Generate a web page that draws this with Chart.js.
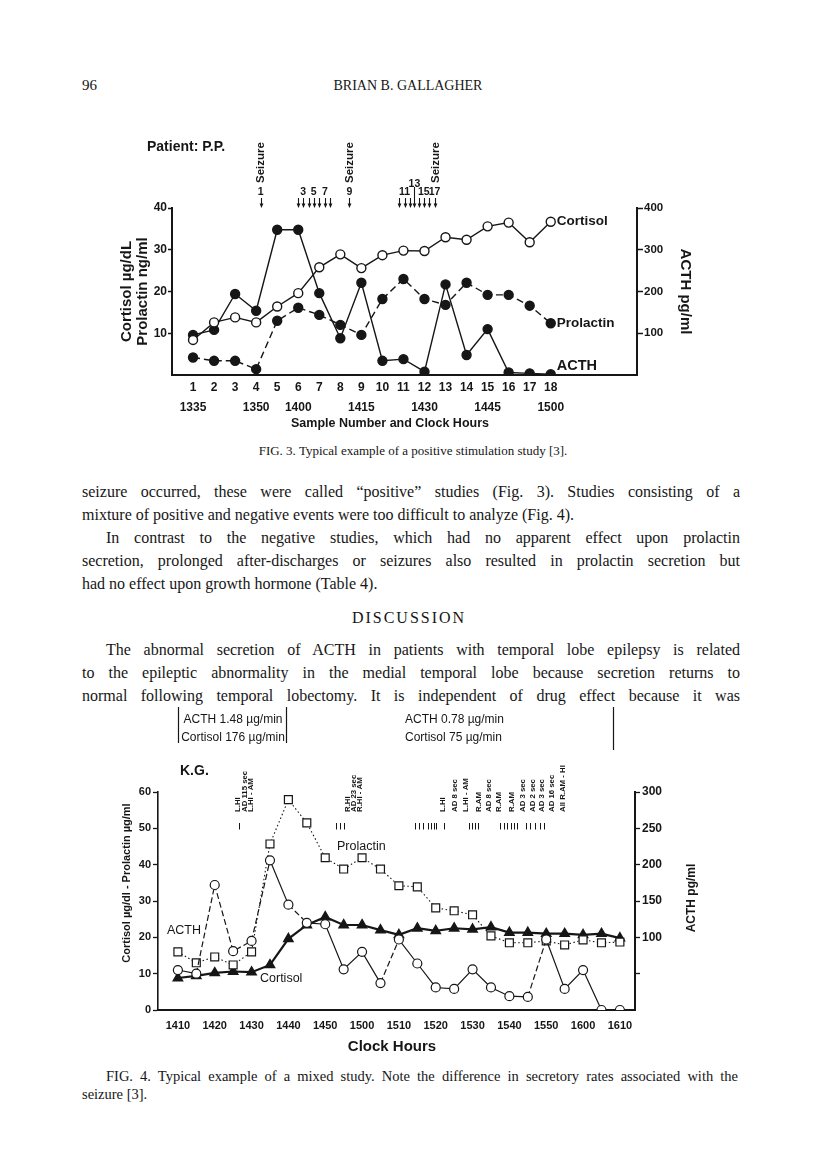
<!DOCTYPE html>
<html>
<head>
<meta charset="utf-8">
<script src="https://cdn.jsdelivr.net/npm/chart.js@4.4.1/dist/chart.umd.min.js"></script>
<style>
  html, body { margin: 0; padding: 0; background: #fff; }
  body { width: 816px; height: 1168px; position: relative; overflow: hidden;
         font-family: "Liberation Serif", "Times New Roman", serif; color: #161616; }
  .t { position: absolute; white-space: nowrap; }
  .ln { position: absolute; left: 82px; width: 658px; font-size: 16px; line-height: 23px; }
  .j { text-align: justify; text-align-last: justify; }
  canvas { position: absolute; }
</style>
</head>
<body>
<div class="t" style="left:82px;top:76px;font-size:15px;line-height:18px;">96</div>
<div class="t" style="left:0;width:816px;text-align:center;top:77px;font-size:14px;line-height:18px;">BRIAN B. GALLAGHER</div>

<canvas id="fig3" width="620" height="320" style="left:100px;top:120px;width:620px;height:320px;"></canvas>
<div class="t" style="left:0;width:826px;text-align:center;top:442px;font-size:13px;line-height:18px;">FIG. 3. Typical example of a positive stimulation study [3].</div>

<div class="ln j" style="top:480px;">seizure occurred, these were called “positive” studies (Fig. 3). Studies consisting of a</div>
<div class="ln" style="top:503px;">mixture of positive and negative events were too difficult to analyze (Fig. 4).</div>
<div class="ln j" style="top:526px;padding-left:24px;width:634px;">In contrast to the negative studies, which had no apparent effect upon prolactin</div>
<div class="ln j" style="top:549px;">secretion, prolonged after-discharges or seizures also resulted in prolactin secretion but</div>
<div class="ln" style="top:572px;">had no effect upon growth hormone (Table 4).</div>
<div class="t" style="left:0;width:818px;text-align:center;top:606px;font-size:16px;line-height:23px;letter-spacing:2px;">DISCUSSION</div>
<div class="ln j" style="top:638px;padding-left:24px;width:634px;">The abnormal secretion of ACTH in patients with temporal lobe epilepsy is related</div>
<div class="ln j" style="top:661px;">to the epileptic abnormality in the medial temporal lobe because secretion returns to</div>
<div class="ln j" style="top:684px;">normal following temporal lobectomy. It is independent of drug effect because it was</div>

<canvas id="fig4" width="620" height="365" style="left:100px;top:700px;width:620px;height:365px;"></canvas>
<div class="t j" style="left:106px;width:632px;top:1067px;font-size:14.5px;line-height:18px;white-space:normal;">FIG. 4. Typical example of a mixed study. Note the difference in secretory rates associated with the</div>
<div class="t" style="left:82px;top:1085px;font-size:14.5px;line-height:18px;">seizure [3].</div>

<script>
// ---------- Fig. 3 : patient P.P. ----------
const samples = [1, 2, 3, 4, 5, 6, 7, 8, 9, 10, 11, 12, 13, 14, 15, 16, 17, 18];
const clockSamples = [1, 4, 6, 9, 12, 15, 18];
const clockTimes = ['1335', '1350', '1400', '1415', '1430', '1445', '1500'];
const cortisol3 = [8.4, 12.6, 13.8, 12.6, 16.4, 19.6, 25.8, 28.9, 25.6, 28.7, 29.8, 29.7, 33.0, 32.4, 35.6, 36.5, 31.8, 36.7];
const prolactin3 = [4.2, 3.4, 3.4, 1.4, 13.0, 16.1, 14.4, 12.0, 9.6, 18.2, 23.0, 18.2, 16.8, 22.1, 19.2, 19.2, 16.6, 12.4];
const acth3 = [96, 108, 194, 154, 348, 348, 196, 88, 221, 34, 38, 8, 217, 48, 110, 6, 4, 2];
// stimulations 1..17 and seizures, in sample-number units
const stimAt3 = [4.22, 5.97, 6.24, 6.49, 6.73, 7.0, 7.27, 7.52, 8.43, 10.81, 11.05, 11.29, 11.52, 11.76, 11.97, 12.2, 12.48];
const stimNumbers3 = [1, 3, 5, 7, 9, 11, 13, 15, 17];
const seizureAt3 = [4.22, 8.43, 12.56];

// ---------- Fig. 4 : patient K.G. ----------
const times4 = ['1410', '1415', '1420', '1425', '1430', '1435', '1440', '1445', '1450', '1455', '1500', '1505', '1510',
                '1515', '1520', '1525', '1530', '1535', '1540', '1545', '1550', '1555', '1600', '1605', '1610'];
const hourTicks4 = ['1410', '1420', '1430', '1440', '1450', '1500', '1510', '1520', '1530', '1540', '1550', '1600', '1610'];
const cortisol4 = [8.8, 9.4, 10.2, 10.6, 10.4, 12.4, 19.6, 23.4, 25.6, 23.4, 23.4, 22.0, 20.7, 22.5, 21.8, 22.5, 22.2, 22.8, 21.3, 21.3, 21.0, 21.0, 20.7, 21.0, 19.8];
const prolactin4 = [16.0, 13.0, 14.6, 12.4, 16.0, 45.7, 57.9, 51.5, 41.9, 38.8, 41.9, 38.8, 34.2, 33.9, 28.1, 27.3, 26.2, 20.4, 18.5, 18.5, 19.0, 17.9, 19.3, 18.5, 18.7];
const acth4 = [55, 50, 172, 81, 95, 206, 145, 120, 118, 56, 80, 37, 97, 64, 31, 29, 56, 31, 19, 18, 97, 29, 55, 0, 0];
const acthDashed4 = [1, 2, 3, 4, 6, 11, 19];
// stimulus marks and their labels, minutes after 1410
const stimAt4 = [16.6, 42.9, 44.0, 45.2, 64.3, 65.4, 66.5, 68.0, 68.7, 69.4, 70.1, 72.2, 79.1, 79.9, 80.7, 81.5,
                 87.4, 88.4, 89.3, 90.3, 91.2, 92.1, 94.5, 95.7, 97.0, 98.2, 99.4];
const eventLabels4 = ['L.HI', 'AD 115 sec', 'L.HI - AM', 'R.HI', 'AD 23 sec', 'R.HI - AM', 'L.HI', 'AD 8 sec', 'L.HI - AM',
                      'R.AM', 'AD 8 sec', 'R.AM', 'R.AM', 'AD 3 sec', 'AD 2 sec', 'AD 3 sec', 'AD 16 sec', 'All R.AM - HI'];
const eventAt4 = [16.4, 18.2, 20.0, 46.2, 47.8, 49.4, 72.0, 75.4, 78.4, 81.8, 84.4, 87.2, 90.8, 93.8, 96.5, 99.0, 101.7, 104.5];

const sans = '"Liberation Sans", Arial, Helvetica, sans-serif';
const ink = '#161616';
Chart.defaults.font.family = sans;
Chart.defaults.color = ink;

const toMin = t => { const v = +t; return Math.floor(v / 100) * 60 + v % 100 - (14 * 60 + 10); };

// rotated text; stretch > 1 lengthens the text along its own direction
function vText(ctx, text, x, y, angle, align, stretch) {
    ctx.save();
    ctx.translate(x, y);
    ctx.rotate(angle);
    if (stretch) ctx.scale(stretch, 1);
    ctx.textAlign = align || 'center';
    ctx.textBaseline = 'middle';
    ctx.fillText(text, 0, 0);
    ctx.restore();
}

const hideZero = c => (c.tick && c.tick.value === 0) ? 'rgba(0,0,0,0)' : ink;

// annotations for Fig. 3
const notes3 = {
    id: 'notes3',
    afterDraw(chart) {
        const { ctx, chartArea: a, scales: { x, y, y1 } } = chart;
        ctx.save();
        ctx.fillStyle = ink;
        ctx.strokeStyle = ink;
        ctx.textBaseline = 'middle';

        ctx.font = `bold 14px ${sans}`;
        ctx.textAlign = 'left';
        ctx.fillText('Patient: P.P.', 47, 27);

        ctx.font = `bold 11.5px ${sans}`;
        seizureAt3.forEach(s => vText(ctx, 'Seizure', x.getPixelForValue(s), 63, -Math.PI / 2, 'left'));

        // stimulus arrows
        ctx.lineWidth = 1.1;
        stimAt3.forEach((s, i) => {
            const px = Math.round(x.getPixelForValue(s)) + 0.5;
            const top = (i + 1) === 13 ? 67 : 78;
            ctx.beginPath(); ctx.moveTo(px, top); ctx.lineTo(px, 85); ctx.stroke();
            ctx.beginPath(); ctx.moveTo(px - 1.9, 83.5); ctx.lineTo(px + 1.9, 83.5); ctx.lineTo(px, 88); ctx.closePath(); ctx.fill();
        });
        ctx.font = `bold 10.5px ${sans}`;
        ctx.textAlign = 'center';
        stimNumbers3.forEach(n => ctx.fillText(String(n), x.getPixelForValue(stimAt3[n - 1]), n === 13 ? 64 : 72));

        // series names
        const last = samples.length - 1;
        const lx = x.getPixelForValue(samples[last]) + 6;
        ctx.textAlign = 'left';
        ctx.font = `bold 13.5px ${sans}`;
        ctx.fillText('Cortisol', lx, y.getPixelForValue(cortisol3[last]));
        ctx.fillText('Prolactin', lx, y.getPixelForValue(prolactin3[last]));
        ctx.font = `bold 14.5px ${sans}`;
        ctx.fillText('ACTH', lx, y1.getPixelForValue(acth3[last]) - 8);

        // axis titles
        const cy = (a.top + a.bottom) / 2;
        ctx.font = `bold 15px ${sans}`;
        vText(ctx, 'Cortisol µg/dL', 27, cy, -Math.PI / 2);
        vText(ctx, 'Prolactin ng/ml', 43, cy, -Math.PI / 2);
        vText(ctx, 'ACTH pg/ml', 585, cy, Math.PI / 2);
        ctx.font = `bold 12.5px ${sans}`;
        ctx.textAlign = 'center';
        ctx.fillText('Sample Number and Clock Hours', 290, 304);
        ctx.restore();
    }
};

const fig3 = new Chart(document.getElementById('fig3'), {
    type: 'line',
    data: {
        datasets: [
            {
                label: 'Cortisol',
                data: samples.map((s, i) => ({ x: s, y: cortisol3[i] })),
                yAxisID: 'y',
                borderColor: ink, borderWidth: 1.4,
                pointRadius: 4.5, pointBackgroundColor: '#fff', pointBorderColor: ink, pointBorderWidth: 1.4
            },
            {
                label: 'Prolactin',
                data: samples.map((s, i) => ({ x: s, y: prolactin3[i] })),
                yAxisID: 'y',
                borderColor: ink, borderWidth: 1.4, borderDash: [7, 4],
                pointRadius: 4.5, pointBackgroundColor: ink, pointBorderColor: ink
            },
            {
                label: 'ACTH',
                data: samples.map((s, i) => ({ x: s, y: acth3[i] })),
                yAxisID: 'y1',
                borderColor: ink, borderWidth: 1.4,
                pointRadius: 4.5, pointBackgroundColor: ink, pointBorderColor: ink
            }
        ]
    },
    options: {
        responsive: false,
        devicePixelRatio: 1,
        animation: false,
        layout: { padding: { top: 88, left: 0, right: 0, bottom: 0 } },
        plugins: { legend: { display: false }, tooltip: { enabled: false } },
        scales: {
            x: {
                type: 'linear', min: 0, max: 22.1,
                afterBuildTicks: s => { s.ticks = samples.map(v => ({ value: v })); },
                afterFit: s => { s.height = 65; },
                grid: { display: false, drawTicks: false },
                border: { display: true, color: ink, width: 2 },
                ticks: {
                    autoSkip: false, maxRotation: 0, minRotation: 0, padding: 3.5,
                    font: { size: 12, weight: 'bold', lineHeight: 1.6 },
                    callback: v => {
                        const k = clockSamples.indexOf(v);
                        return [String(v), k >= 0 ? clockTimes[k] : ''];
                    }
                }
            },
            y: {
                position: 'left', min: 0, max: 40,
                afterFit: s => { s.width = 72; },
                grid: { drawOnChartArea: false, drawTicks: true, tickLength: 4, tickWidth: 1.5, tickColor: hideZero },
                border: { display: true, color: ink, width: 2 },
                ticks: { stepSize: 10, padding: 1, font: { size: 12, weight: 'bold' },
                         callback: v => v === 0 ? '' : v }
            },
            y1: {
                position: 'right', min: 0, max: 400,
                afterFit: s => { s.width = 83; },
                grid: { drawOnChartArea: false, drawTicks: true, tickLength: 6, tickWidth: 1.5, tickColor: hideZero },
                border: { display: true, color: ink, width: 2 },
                ticks: { stepSize: 100, padding: 1, font: { size: 11.5, weight: 'bold' },
                         callback: v => v === 0 ? '' : v }
            }
        }
    },
    plugins: [notes3]
});

// annotations for Fig. 4
const notes4 = {
    id: 'notes4',
    afterDraw(chart) {
        const { ctx, chartArea: a, scales: { x } } = chart;
        ctx.save();
        ctx.fillStyle = ink;
        ctx.strokeStyle = ink;
        ctx.textBaseline = 'middle';

        // secretory rate boxes
        ctx.lineWidth = 1.2;
        [[78.5, 7, 43], [186.5, 7, 43], [513.5, 7, 50]].forEach(([bx, y0, y1]) => {
            ctx.beginPath(); ctx.moveTo(bx, y0); ctx.lineTo(bx, y1); ctx.stroke();
        });
        ctx.font = `12px ${sans}`;
        ctx.textAlign = 'center';
        ctx.fillText('ACTH 1.48 µg/min', 133, 20);
        ctx.fillText('Cortisol 176 µg/min', 133, 38);
        ctx.textAlign = 'left';
        ctx.fillText('ACTH 0.78 µg/min', 305, 20);
        ctx.fillText('Cortisol 75 µg/min', 305, 38);

        ctx.font = `bold 14px ${sans}`;
        ctx.fillText('K.G.', 80, 71);

        // stimulus labels and marks
        ctx.font = `bold 6.5px ${sans}`;
        eventLabels4.forEach((t, i) => vText(ctx, t, x.getPixelForValue(eventAt4[i]), 112, -Math.PI / 2, 'left', 1.2));
        ctx.lineWidth = 1;
        stimAt4.forEach(m => {
            const px = Math.round(x.getPixelForValue(m)) + 0.5;
            ctx.beginPath(); ctx.moveTo(px, 123); ctx.lineTo(px, 129.5); ctx.stroke();
        });

        // series names
        ctx.font = `12.5px ${sans}`;
        ctx.textAlign = 'left';
        ctx.fillText('ACTH', 67, 231);
        ctx.fillText('Prolactin', 237, 147);
        ctx.fillText('Cortisol', 160, 279);

        // axis titles
        const cy = (a.top + a.bottom) / 2;
        ctx.font = `bold 11px ${sans}`;
        vText(ctx, 'Cortisol µg/dl - Prolactin µg/ml', 27, cy - 18, -Math.PI / 2);
        ctx.font = `bold 12px ${sans}`;
        vText(ctx, 'ACTH pg/ml', 592, cy - 3, -Math.PI / 2);
        ctx.font = `bold 15px ${sans}`;
        ctx.textAlign = 'center';
        ctx.fillText('Clock Hours', 292, 347);
        ctx.restore();
    }
};

const fig4 = new Chart(document.getElementById('fig4'), {
    type: 'line',
    data: {
        datasets: [
            {
                label: 'ACTH',
                data: times4.map((t, i) => ({ x: toMin(t), y: acth4[i] })),
                yAxisID: 'y1',
                borderColor: ink, borderWidth: 1.2,
                segment: { borderDash: c => acthDashed4.includes(c.p0DataIndex) ? [6, 3] : undefined },
                pointRadius: 4.5, pointBackgroundColor: '#fff', pointBorderColor: ink, pointBorderWidth: 1.2
            },
            {
                label: 'Prolactin',
                data: times4.map((t, i) => ({ x: toMin(t), y: prolactin4[i] })),
                yAxisID: 'y',
                borderColor: ink, borderWidth: 1.1, borderDash: [1.5, 2.5],
                pointStyle: 'rect', pointRadius: 5.6, pointBackgroundColor: '#fff', pointBorderColor: ink, pointBorderWidth: 1.2
            },
            {
                label: 'Cortisol',
                data: times4.map((t, i) => ({ x: toMin(t), y: cortisol4[i] })),
                yAxisID: 'y',
                borderColor: ink, borderWidth: 2.2,
                pointStyle: 'triangle', pointRadius: 4.6, pointBackgroundColor: ink, pointBorderColor: ink
            }
        ]
    },
    options: {
        responsive: false,
        devicePixelRatio: 1,
        animation: false,
        layout: { padding: { top: 92, left: 0, right: 0, bottom: 0 } },
        plugins: { legend: { display: false }, tooltip: { enabled: false } },
        scales: {
            x: {
                type: 'linear', min: -5.4, max: 124.1,
                afterBuildTicks: s => { s.ticks = hourTicks4.map(t => ({ value: toMin(t) })); },
                afterFit: s => { s.height = 55; },
                grid: { display: false, drawTicks: false },
                border: { display: true, color: ink, width: 2 },
                ticks: {
                    autoSkip: false, maxRotation: 0, minRotation: 0, padding: 9,
                    font: { size: 11, weight: 'bold' },
                    callback: v => hourTicks4[hourTicks4.findIndex(t => toMin(t) === v)]
                }
            },
            y: {
                position: 'left', min: 0, max: 60,
                afterFit: s => { s.width = 58; },
                grid: { drawOnChartArea: false, drawTicks: true, tickLength: 5, tickWidth: 1.3, tickColor: ink },
                border: { display: true, color: ink, width: 1.6 },
                ticks: { stepSize: 10, padding: 2, font: { size: 11, weight: 'bold' } }
            },
            y1: {
                position: 'right', min: 0, max: 300,
                afterFit: s => { s.width = 85; },
                grid: { drawOnChartArea: false, drawTicks: true, tickLength: 5, tickWidth: 1.3, tickColor: hideZero },
                border: { display: true, color: ink, width: 2 },
                ticks: { stepSize: 50, padding: 2, font: { size: 12, weight: 'bold' },
                         callback: v => v >= 100 ? v : '' }
            }
        }
    },
    plugins: [notes4]
});
</script>
</body>
</html>
